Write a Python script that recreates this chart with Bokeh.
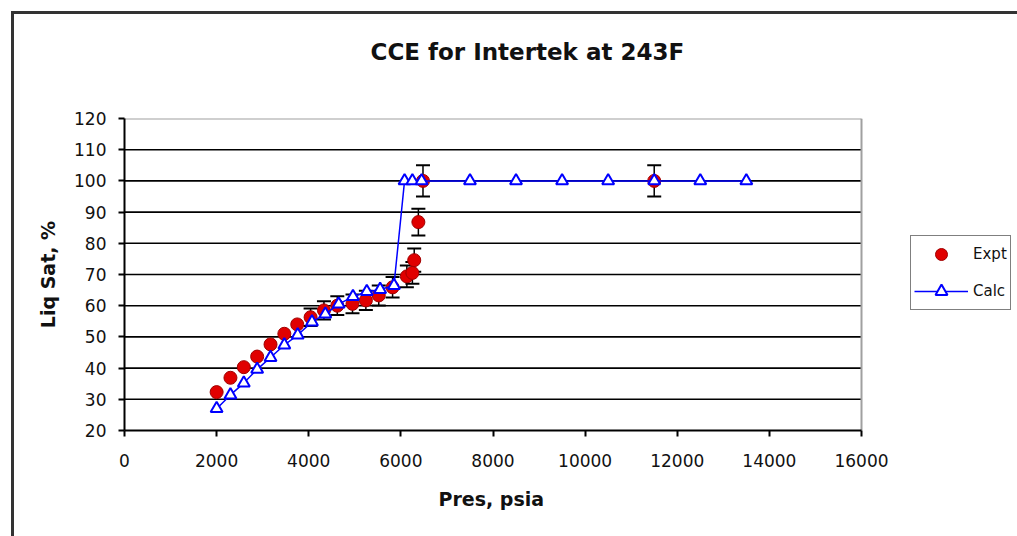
from bokeh.plotting import figure
from bokeh.models import Range1d, FixedTicker, ColumnDataSource, Legend, LegendItem, Title
from bokeh.embed import file_html
from bokeh.resources import INLINE

# ---- data ----
expt_pres = [2000, 2300, 2590, 2880, 3170, 3470, 3750, 4040, 4330, 4620, 4950, 5240,
             5520, 5820, 6130, 6250, 6290, 6380, 6480, 11500]
expt_sat = [32.3, 36.9, 40.3, 43.7, 47.6, 51.0, 54.0, 56.3, 58.5, 60.0, 60.6, 61.7,
            63.3, 65.9, 69.4, 70.5, 74.6, 86.8, 100.0, 100.0]
# error bar half-widths (no error bars visible on the lowest points)
expt_err = [0, 0, 0, 0, 0, 0, 0, 2.8, 2.9, 3.0, 3.0, 3.1,
            3.2, 3.3, 3.5, 3.5, 3.7, 4.3, 5.0, 5.0]

calc_pres = [2000, 2300, 2590, 2880, 3170, 3470, 3760, 4070, 4360, 4650, 4960, 5260,
             5550, 5850, 6080, 6250, 6450, 7500, 8500, 9500, 10500, 11500, 12500, 13500]
calc_sat = [27.0, 31.4, 35.2, 39.6, 43.4, 47.4, 50.6, 54.8, 57.3, 60.5, 62.9, 64.5,
            65.2, 66.5, 100, 100, 100, 100, 100, 100, 100, 100, 100, 100]

x_ticks = [0, 2000, 4000, 6000, 8000, 10000, 12000, 14000, 16000]
y_ticks = [20, 30, 40, 50, 60, 70, 80, 90, 100, 110, 120]

FONT = "DejaVu Sans"
TXT = "#111111"

# layout geometry (pixels)
SHIFT = 18              # canvas is moved up by this much so the title sits higher
W, H = 1017, 536 + SHIFT
LEFT, TOP, BOTTOM = 124, 118 + SHIFT, 106
PLOT_W = 737            # width of the drawn plot area (0..16000)
FRAME_W = W - LEFT      # the frame also hosts the legend at the right
x_min, x_max = x_ticks[0], x_ticks[-1]
x_view_max = x_min + (x_max - x_min) * FRAME_W / PLOT_W

frame_css = {
    "margin-top": f"-{SHIFT}px",
    "background-color": "white",
    "background-image": "linear-gradient(#333333,#333333), linear-gradient(#333333,#333333)",
    "background-size": "3px 100%, 100% 3px",
    "background-position": f"11px {11 + SHIFT}px, 11px {11 + SHIFT}px",
    "background-repeat": "no-repeat",
}

p = figure(width=W, height=H, output_backend="svg", toolbar_location=None,
           x_range=Range1d(x_min, x_view_max), y_range=Range1d(y_ticks[0], y_ticks[-1]),
           min_border_left=LEFT, min_border_right=0, min_border_top=TOP,
           min_border_bottom=BOTTOM, background_fill_color="white",
           border_fill_alpha=0, styles=frame_css, title=None)
p.outline_line_color = None
p.xgrid.visible = False
p.ygrid.visible = False

# real axes
xax = p.below[0]
yax = p.left[0]
xax.ticker = FixedTicker(ticks=x_ticks)
yax.ticker = FixedTicker(ticks=y_ticks)
xax.bounds = (x_min, x_max)
for ax in (xax, yax):
    ax.axis_line_color = "black"
    ax.axis_line_width = 2
    ax.major_tick_line_color = "black"
    ax.major_tick_line_width = 2
    ax.major_tick_in = 0
    ax.major_tick_out = 6
    ax.minor_tick_line_color = None
    ax.major_label_text_font = FONT
    ax.major_label_text_font_size = "17px"
    ax.major_label_text_color = TXT
    ax.axis_label_text_font = FONT
    ax.axis_label_text_font_size = "19px"
    ax.axis_label_text_font_style = "bold"
    ax.axis_label_text_color = TXT
xax.major_label_standoff = 17
yax.major_label_standoff = 12
yax.axis_label = "Liq Sat, %"
yax.axis_label_standoff = 12

# x-axis title placed under the plot area (centred on 0..16000, not on the frame)
p.add_layout(Title(text="Pres, psia", align="left", offset=314, standoff=33,
                   text_font=FONT, text_font_size="19px", text_font_style="bold",
                   text_color=TXT), "below")

# chart title
p.add_layout(Title(text="CCE for Intertek at 243F", align="left", offset=246,
                   standoff=108, text_font=FONT, text_font_size="23px",
                   text_font_style="bold", text_color=TXT), "above")

# horizontal grid lines and grey plot-area border
grid_y = y_ticks[1:-1]
p.segment(x0=[x_min] * len(grid_y), x1=[x_max] * len(grid_y), y0=grid_y, y1=grid_y,
          line_color="black", line_width=1.6)
p.segment(x0=[x_min, x_max], x1=[x_max, x_max], y0=[y_ticks[-1], y_ticks[0]],
          y1=[y_ticks[-1], y_ticks[-1]], line_color="#a0a0a0", line_width=2)

# error bars (stems + caps)
eb = [(x, y, e) for x, y, e in zip(expt_pres, expt_sat, expt_err) if e > 0]
src_eb = ColumnDataSource(dict(x=[t[0] for t in eb],
                               lo=[t[1] - t[2] for t in eb],
                               hi=[t[1] + t[2] for t in eb]))
p.segment(x0="x", x1="x", y0="lo", y1="hi", source=src_eb,
          line_color="black", line_width=1.5)
p.scatter("x", "lo", source=src_eb, marker="dash", size=14,
          line_color="black", line_width=2)
p.scatter("x", "hi", source=src_eb, marker="dash", size=14,
          line_color="black", line_width=2)

# experimental points
src_e = ColumnDataSource(dict(x=expt_pres, y=expt_sat))
r_expt = p.scatter("x", "y", source=src_e, size=13, marker="circle",
                   fill_color="#e00000", line_color="#a00000", line_width=1)

# calculated curve
src_c = ColumnDataSource(dict(x=calc_pres, y=calc_sat))
r_line = p.line("x", "y", source=src_c, line_color="#0000ff", line_width=1.5)
r_tri = p.scatter("x", "y", source=src_c, size=12, marker="triangle",
                  fill_color="white", line_color="#0000ff", line_width=2)

legend = Legend(items=[LegendItem(label="Expt", renderers=[r_expt]),
                       LegendItem(label="Calc", renderers=[r_line, r_tri])],
                location=(786, 120), orientation="vertical",
                border_line_color="black", border_line_width=1.5,
                background_fill_color="white", background_fill_alpha=1,
                padding=3, spacing=7, glyph_width=54, glyph_height=30,
                label_standoff=5, label_text_font=FONT,
                label_text_font_size="15px", label_text_color=TXT,
                margin=0)
p.add_layout(legend, "center")

open("out.html", "w").write(file_html(p, INLINE))
